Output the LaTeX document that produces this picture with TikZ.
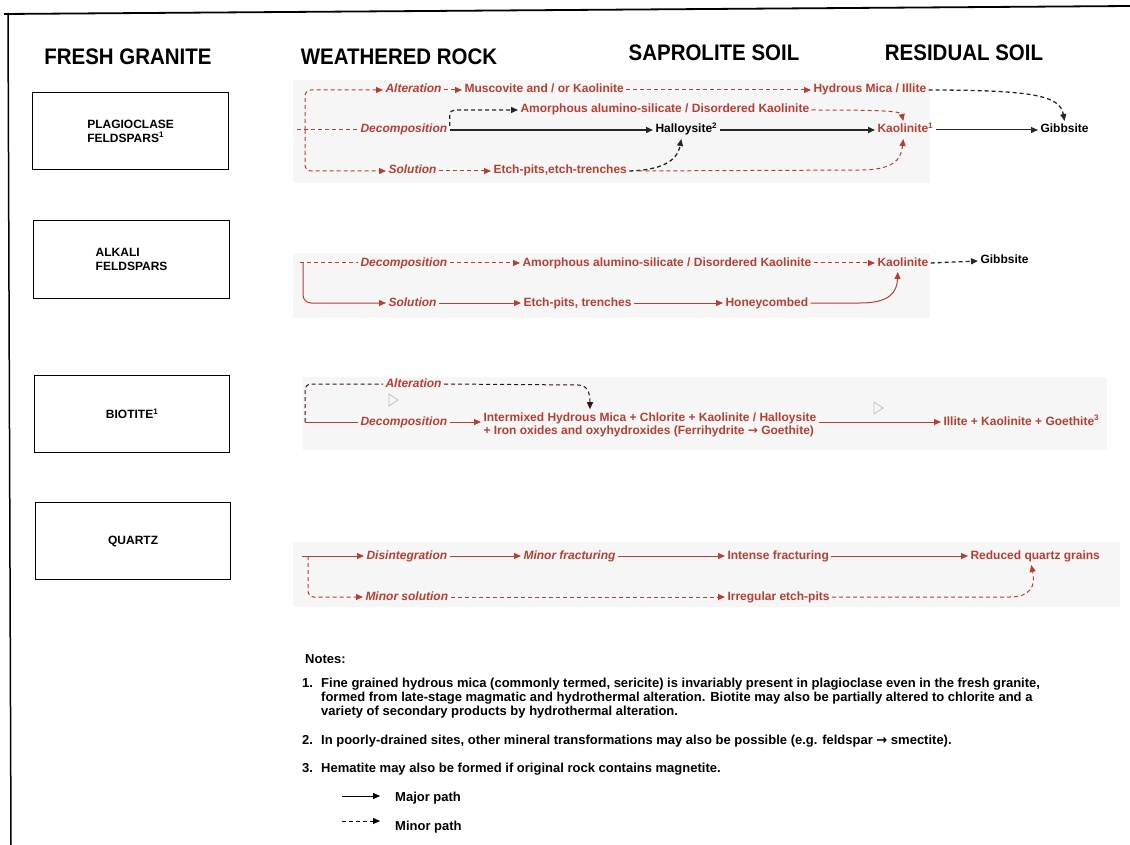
\documentclass[tikz,border=0pt]{standalone}
\usepackage{fontspec}
\setmainfont{Liberation Sans}
\newfontfamily\dejavu{DejaVu Sans}
\usetikzlibrary{arrows.meta,calc}
\definecolor{myred}{RGB}{180,64,52}
\definecolor{panelgray}{RGB}{247,246,246}
\newcommand{\fhdr}{\fontsize{22.5}{24}\selectfont\bfseries}
\newcommand{\flbl}{\fontsize{12}{14}\selectfont\bfseries}
\newcommand{\fred}{\fontsize{12}{13.5}\selectfont\bfseries}
\newcommand{\fnote}{\fontsize{13}{14}\selectfont\bfseries}
\newcommand{\hdrtext}[1]{\scalebox{0.91}[1]{#1}}
\tikzset{
  hdr/.style={font=\fhdr, inner sep=0pt},
  mbox/.style={draw, line width=1.2pt, anchor=north west, inner sep=0pt, font=\flbl, align=left},
  rblk/.style={font=\fred, text=myred, inner xsep=0pt, inner ysep=1pt, outer sep=2.5pt, anchor=west},
  rw/.style={rblk, text height=8.5pt, text depth=2.5pt},
  ri/.style={rw, font=\fred\itshape},
  bw/.style={rw, text=black},
  note/.style={font=\fnote, inner sep=0pt, anchor=base west},
  rs/.style={line width=1pt, draw=myred},
  rd/.style={line width=1pt, draw=myred, dash pattern=on 4pt off 3pt},
  dd/.style={line width=1pt, draw=black!70!myred, dash pattern=on 4pt off 3pt},
  bs/.style={line width=1.5pt, draw=black!85},
  bd/.style={line width=1.3pt, draw=black!85, dash pattern=on 4pt off 3pt},
  ar/.style={-{Triangle[length=7pt,width=6pt]}},
  panel/.style={fill=panelgray, draw=none},
  cursor/.style={draw=black!25, line width=0.8pt},
}
\begin{document}
\begin{tikzpicture}[x=1pt,y=-1pt]
\useasboundingbox (0,0) rectangle (1130,845);
\fill[white] (0,0) rectangle (1130,845);
% frame
\draw[line width=1.8pt] (4,14) -- (1130,6);
\draw[line width=1.5pt] (8,13) -- (11,845);
% panels
\fill[panel] (293,80) rectangle (930,183);
\fill[panel] (293,253) rectangle (930,318);
\fill[panel] (303,377) rectangle (1107,450);
\fill[panel] (293,542) rectangle (1120,607);
% headers
\node[hdr] (hfg) at (128,57) {\hdrtext{FRESH GRANITE}};
\node[hdr] (hwr) at (399,57) {\hdrtext{WEATHERED ROCK}};
\node[hdr] (hss) at (714,53) {\hdrtext{SAPROLITE SOIL}};
\node[hdr] (hrs) at (964,53) {\hdrtext{RESIDUAL SOIL}};
% boxes
\node[mbox, minimum width=196pt, minimum height=77pt] (bx1) at (32,92) {PLAGIOCLASE\\FELDSPARS\textsuperscript{1}};
\node[mbox, minimum width=196pt, minimum height=78pt] (bx2) at (33,220) {ALKALI\\FELDSPARS};
\node[mbox, minimum width=195pt, minimum height=77pt] (bx3) at (34,375) {BIOTITE\textsuperscript{1}};
\node[mbox, minimum width=195pt, minimum height=77pt] (bx4) at (35,502) {QUARTZ};

% ---------- row 1: plagioclase
\coordinate (p1s) at (297,130);
\coordinate (p1b) at (305,130);
\node[ri] (p1alt) at (383,90) {Alteration};
\node[rw] (p1mus) at (462,90) {Muscovite and / or Kaolinite};
\node[rw] (p1hyd) at (811,90) {Hydrous Mica / Illite};
\node[ri] (p1dec) at (358,130) {Decomposition};
\node[rw] (p1amo) at (518,110) {Amorphous alumino-silicate / Disordered Kaolinite};
\node[bw] (p1hal) at (653,130) {Halloysite\textsuperscript{2}};
\node[rw] (p1kao) at (875,130) {Kaolinite\textsuperscript{1}};
\node[bw] (p1gib) at (1038,130) {Gibbsite};
\node[ri] (p1sol) at (386,171) {Solution};
\node[rw] (p1etc) at (491,171) {Etch-pits,etch-trenches};
\draw[rd] (p1s) -- (p1dec.west);
\draw[rd,ar,rounded corners=6pt] (p1b) |- (p1alt.west);
\draw[rd,ar,rounded corners=6pt] (p1b) |- (p1sol.west);
\draw[rd,ar] (p1alt.east) -- (p1mus.west);
\draw[rd,ar] (p1mus.east) -- (p1hyd.west);
\draw[bd,ar] (p1hyd.east) .. controls (1035,90) and (1060,96) .. (p1gib.north);
\draw[bs,ar] (p1dec.east) -- (p1hal.west);
\draw[bd,ar,rounded corners=5pt] ([yshift=4pt]p1dec.east) |- (p1amo.west);
\draw[rd,ar] (p1amo.east) .. controls (880,110) and (901,111) .. ([xshift=-2pt]p1kao.north);
\draw[bs,ar] (p1hal.east) -- (p1kao.west);
\draw[line width=1pt,draw=black!85,ar] (p1kao.east) -- (p1gib.west);
\draw[rd,ar] (p1sol.east) -- (p1etc.west);
\draw[bd,ar] (p1etc.east) .. controls (660,170) and (677,162) .. ([xshift=-5pt]p1hal.south);
\draw[rd,ar] ([xshift=9pt]p1etc.east) -- (860,170) .. controls (893,170) and (901,160) .. ([xshift=-2pt]p1kao.south);

% ---------- row 2: alkali feldspars
\coordinate (p2s) at (300,263);
\coordinate (p2b) at (303,263);
\node[ri] (p2dec) at (358,263) {Decomposition};
\node[rw] (p2amo) at (520,263) {Amorphous alumino-silicate / Disordered Kaolinite};
\node[rw] (p2kao) at (875,263) {Kaolinite};
\node[bw] (p2gib) at (978,261) {Gibbsite};
\node[ri] (p2sol) at (386,303) {Solution};
\node[rw] (p2etc) at (521,303) {Etch-pits, trenches};
\node[rw] (p2hon) at (723,303) {Honeycombed};
\draw[rd] (p2s) -- (p2dec.west);
\draw[rs,ar,rounded corners=8pt] (p2b) |- (p2sol.west);
\draw[rd,ar] (p2dec.east) -- (p2amo.west);
\draw[rd,ar] (p2amo.east) -- (p2kao.west);
\draw[bd,ar] (p2kao.east) -- (p2gib.west);
\draw[rs,ar] (p2sol.east) -- (p2etc.west);
\draw[rs,ar] (p2etc.east) -- (p2hon.west);
\draw[rs,ar] (p2hon.east) -- (860,303) .. controls (890,303) and (897,292) .. ([xshift=-5pt]p2kao.south);

% ---------- row 3: biotite
\coordinate (p3s) at (305,422);
\coordinate (c590) at (590,0);
\node[ri] (p3alt) at (383,384) {Alteration};
\node[ri] (p3dec) at (358,422) {Decomposition};
\node[rblk, align=left] (p3int) at (481,425) {Intermixed Hydrous Mica + Chlorite + Kaolinite / Halloysite\\+ Iron oxides and oxyhydroxides (Ferrihydrite {\dejavu\bfseries →} Goethite)};
\node[rw] (p3ill) at (941,422) {Illite + Kaolinite + Goethite\textsuperscript{3}};
\draw[rs] (p3s) -- (p3dec.west);
\draw[dd,rounded corners=6pt] (p3s) |- (p3alt.west);
\draw[dd,ar] (p3alt.east) -- (578,385) .. controls (587,385) and (590,392) .. (p3int.north -| c590);
\draw[rs,ar] (p3dec.east) -- (p3dec.east -| p3int.west);
\draw[rs,ar] (p3int.east |- p3ill.west) -- (p3ill.west);
\draw[cursor] (389,394) -- (398,400) -- (389,406) -- cycle;
\draw[cursor] (874,402) -- (883,408) -- (874,414) -- cycle;

% ---------- row 4: quartz
\coordinate (p4s) at (302,556);
\coordinate (p4b) at (308,556);
\node[ri] (p4dis) at (364,556) {Disintegration};
\node[ri] (p4min) at (521,556) {Minor fracturing};
\node[rw] (p4int) at (725,556) {Intense fracturing};
\node[rw] (p4red) at (968,556) {Reduced quartz grains};
\node[ri] (p4sol) at (363,597) {Minor solution};
\node[rw] (p4irr) at (725,597) {Irregular etch-pits};
\draw[rs,ar] (p4s) -- (p4dis.west);
\draw[rd,ar,rounded corners=6pt] (p4b) |- (p4sol.west);
\draw[rs,ar] (p4dis.east) -- (p4min.west);
\draw[rs,ar] (p4min.east) -- (p4int.west);
\draw[rs,ar] (p4int.east) -- (p4red.west);
\draw[rd,ar] (p4sol.east) -- (p4irr.west);
\draw[rd,ar] (p4irr.east) -- (1010,597) .. controls (1030,597) and (1036,586) .. ([xshift=-4pt]p4red.south);

% ---------- notes
\node[note] (nt) at (305,663) {Notes:};
\node[note] (n1n) at (302,687) {1.};
\node[note] (n1a) at (321,687) {Fine grained hydrous mica (commonly termed, sericite) is invariably present in plagioclase even in the fresh granite,};
\node[note] (n1b) at (321,701) {formed from late-stage magmatic and hydrothermal alteration. Biotite may also be partially altered to chlorite and a};
\node[note] (n1c) at (321,715) {variety of secondary products by hydrothermal alteration.};
\node[note] (n2n) at (302,744) {2.};
\node[note] (n2a) at (321,744) {In poorly-drained sites, other mineral transformations may also be possible (e.g. feldspar {\dejavu\bfseries →} smectite).};
\node[note] (n3n) at (302,772) {3.};
\node[note] (n3a) at (321,772) {Hematite may also be formed if original rock contains magnetite.};
\coordinate (lg1a) at (342,796);
\coordinate (lg1b) at (380,796);
\coordinate (lg2a) at (342,821);
\coordinate (lg2b) at (380,821);
\draw[line width=1pt,ar] (lg1a) -- (lg1b);
\draw[line width=1pt,dash pattern=on 4pt off 3pt,ar] (lg2a) -- (lg2b);
\node[note] (lgt1) at (395,801) {Major path};
\node[note] (lgt2) at (395,830) {Minor path};
\end{tikzpicture}
\end{document}
